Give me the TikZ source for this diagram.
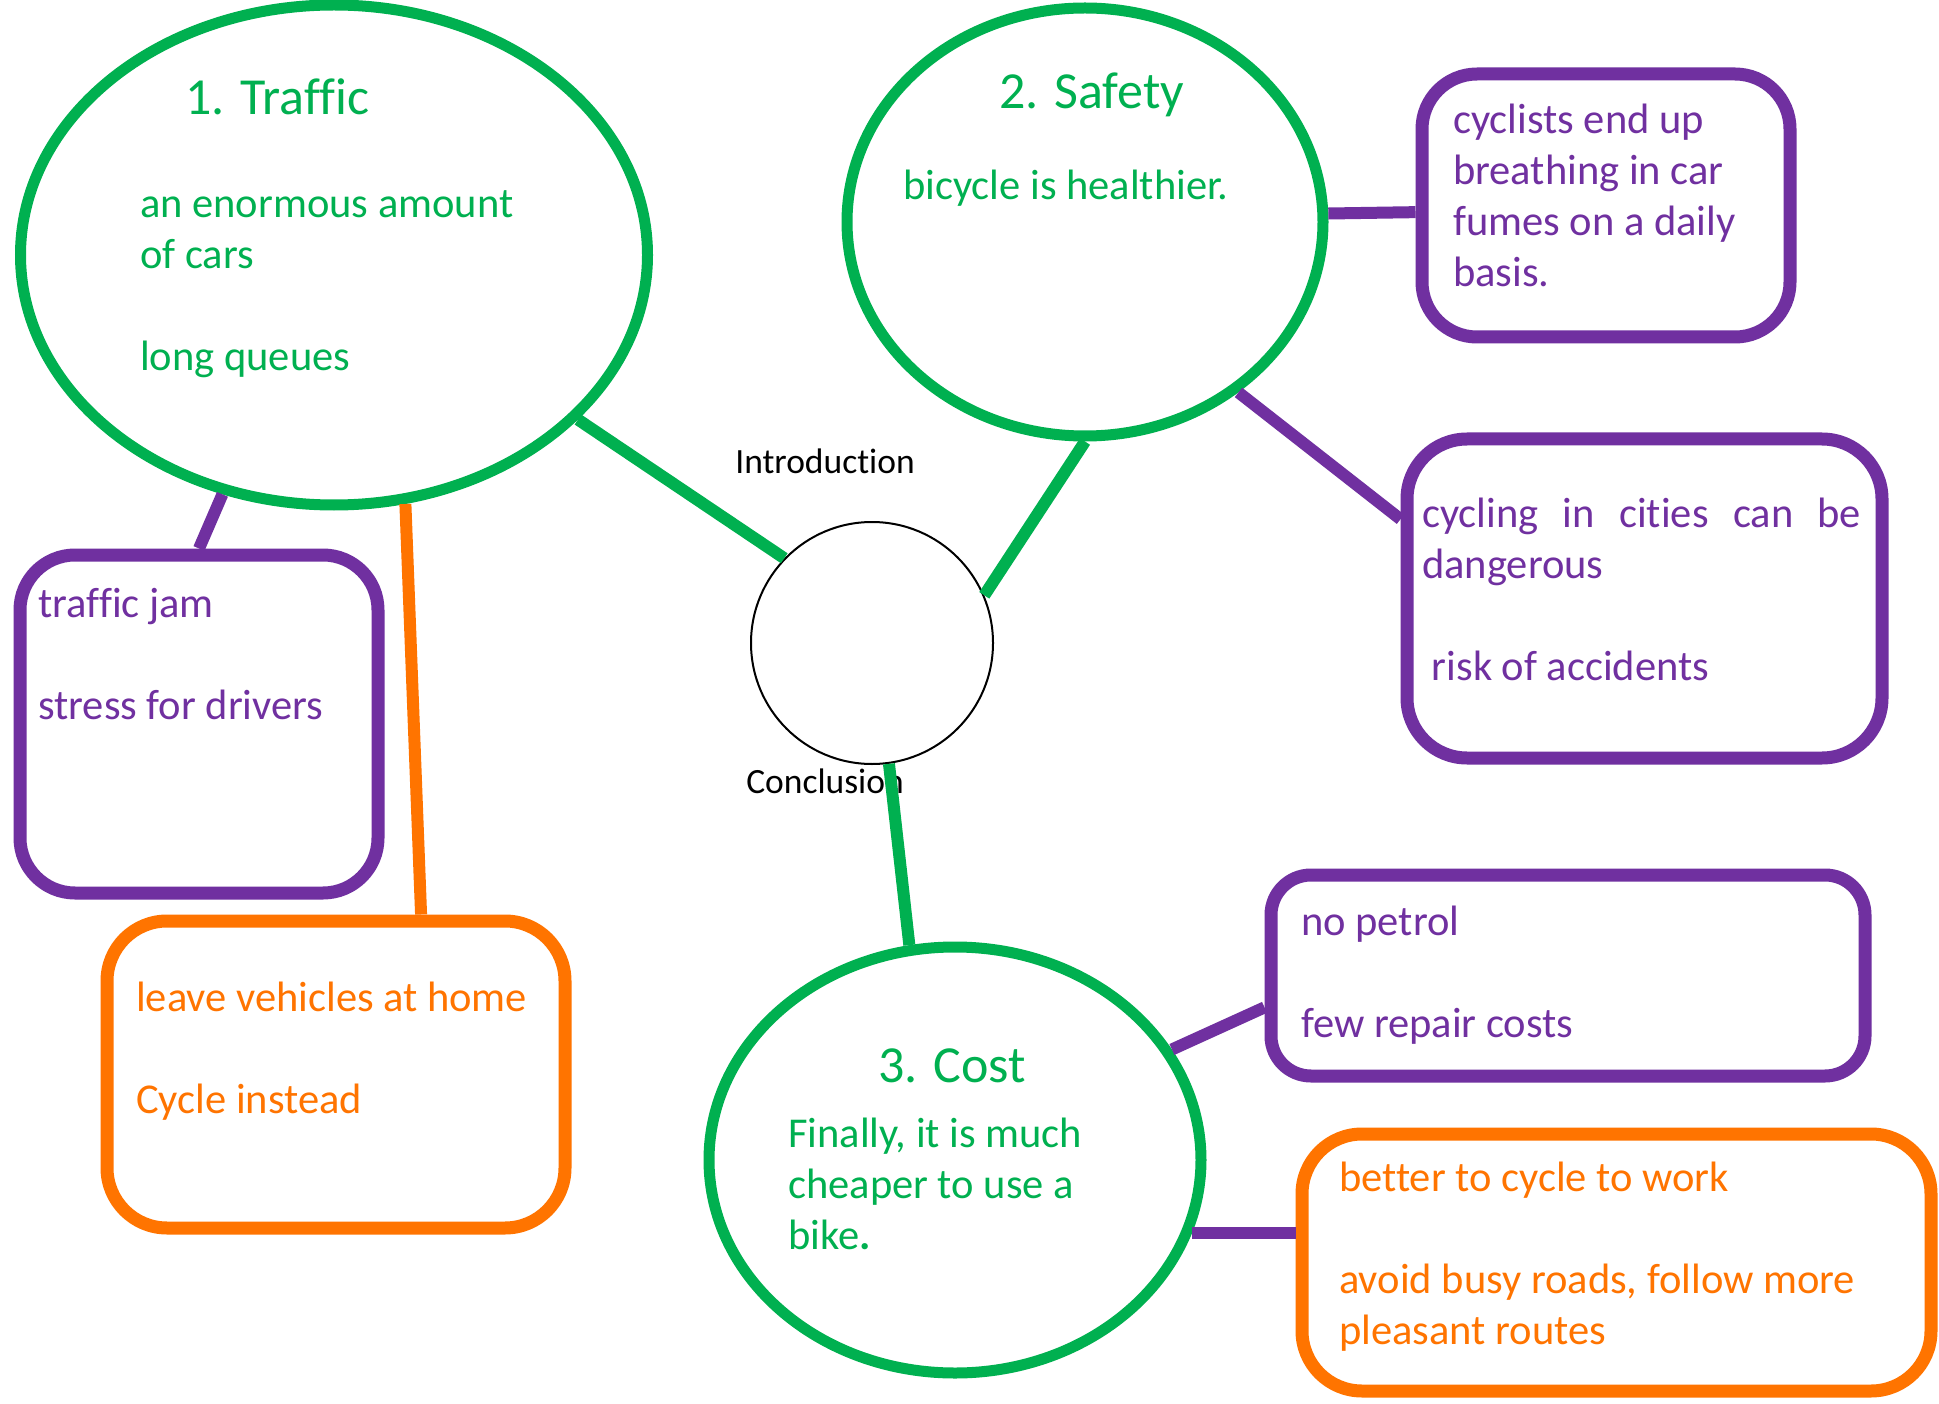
\documentclass[tikz,border=0pt]{standalone}
\usepackage{fontspec}
\setmainfont[Ligatures=NoCommon]{Carlito}
\usetikzlibrary{shapes.geometric}

\definecolor{mapgreen}{RGB}{0,176,80}
\definecolor{mappurple}{RGB}{112,48,160}
\definecolor{maporange}{RGB}{255,116,0}

\newcommand{\bodyfont}{\fontsize{42.5}{51}\selectfont}
\newcommand{\headfont}{\fontsize{52}{62}\selectfont}
\newcommand{\hubfont}{\fontsize{35.5}{43}\selectfont}

\begin{document}
\begin{tikzpicture}[x=1pt,y=-1pt,
		bubble/.style={ellipse,draw=mapgreen,line width=11pt,inner sep=0pt},
		hub/.style={circle,draw=black,line width=2pt,inner sep=0pt,minimum size=242pt},
		pbox/.style={rectangle,rounded corners=55pt,draw=mappurple,line width=13pt,inner sep=0pt},
		obox/.style={pbox,draw=maporange},
		gline/.style={draw=mapgreen,line width=12pt},
		pline/.style={draw=mappurple,line width=12pt},
		oline/.style={draw=maporange,line width=12pt},
		head/.style={anchor=base west,inner sep=0pt,text=mapgreen,font=\headfont},
		notes/.style={anchor=north west,inner sep=0pt,align=left,font=\bodyfont},
		hubtext/.style={anchor=base,inner sep=0pt,font=\hubfont}]

		% page
		\fill[white] (0,0) rectangle (1939,1404);
		\useasboundingbox (0,0) rectangle (1939,1404);

		% main bubbles
		\node[bubble,minimum width=627pt,minimum height=500pt]	(traffic)	at (334,255)	{};
		\node[bubble,minimum width=476pt,minimum height=428pt]	(safety)	at (1085,222)	{};
		\node[bubble,minimum width=492pt,minimum height=426pt]	(cost)		at (955,1160)	{};
		\node[hub]												(centre)	at (872,643)	{};

		% boxes
		\node[pbox,minimum width=358pt,minimum height=338pt]	(jam)		at (199,724)	{};
		\node[obox,minimum width=458pt,minimum height=307pt,rounded corners=60pt]	(leave)	at (336,1074.5)	{};
		\node[pbox,minimum width=368pt,minimum height=263pt]	(fumes)		at (1606,205.5)	{};
		\node[pbox,minimum width=475pt,minimum height=319pt,rounded corners=60pt]	(danger)	at (1644.5,598.5)	{};
		\node[pbox,minimum width=594pt,minimum height=201pt,rounded corners=40pt]	(petrol)	at (1568,975.5)	{};
		\node[obox,minimum width=629pt,minimum height=257pt,rounded corners=60pt]	(routes)	at (1616.5,1262.5)	{};

		% titles
		\node[head]	(trafficttl)	at (185,115)	{1. Traffic};
		\node[head]	(safetyttl)		at (999,109)	{2. Safety};
		\node[head]	(costttl)		at (878,1082)	{3. Cost};

		% texts
		\node[notes,text=mapgreen]	(traffictxt)	at (140,182)	{\strut an enormous amount\\of cars\\ \\long queues};
		\node[notes,text=mapgreen]	(safetytxt)		at (903,164)	{\strut bicycle is healthier.};
		\node[notes,text=mapgreen]	(costtxt)		at (788,1112)	{\strut Finally, it is much\\cheaper to use a\\bike\textbf{.}};
		\node[notes,text=mappurple]	(jamtxt)		at (38,582)		{\strut traffic jam\\ \\stress for drivers};
		\node[notes,text=maporange]	(leavetxt)		at (136,976)	{\strut leave vehicles at home\\ \\Cycle instead};
		\node[notes,text=mappurple]	(fumestxt)		at (1453,98)	{\strut cyclists end up\\breathing in car\\fumes on a daily\\basis.};
		\node[notes,text=mappurple]	(dangertxt)		at (1422,492)	{\strut\makebox[439pt][s]{cycling in cities can be}\\dangerous\\ \\\ risk of accidents};
		\node[notes,text=mappurple]	(petroltxt)		at (1301,900)	{\strut no petrol\\ \\few repair costs};
		\node[notes,text=maporange]	(routestxt)		at (1339,1156)	{\strut better to cycle to work\\ \\avoid busy roads, follow more\\pleasant routes};
		\node[hubtext]	(intro)		at (825,474)	{Introduction};
		\node[hubtext]	(concl)		at (825,793)	{Conclusion};

		% links to the centre
		\draw[gline]	(traffic.-34) -- (centre.136);
		\draw[gline]	(safety.-90) -- (centre.23);
		\draw[gline]	(centre.-82) -- (cost.102);

		% links to the boxes
		\draw[pline]	(traffic.-115) -- (jam.north);
		\draw[oline]	(traffic.-74) -- (leave.62);
		\draw[pline]	(safety.2) -- (fumes.182);
		\draw[pline]	(safety.-48) -- (danger.162);
		\draw[pline]	(cost.27) -- (petrol.-174);
		\draw[pline]	(cost.-17) -- (cost.-17 -| routes.west);
	\end{tikzpicture}
\end{document}
